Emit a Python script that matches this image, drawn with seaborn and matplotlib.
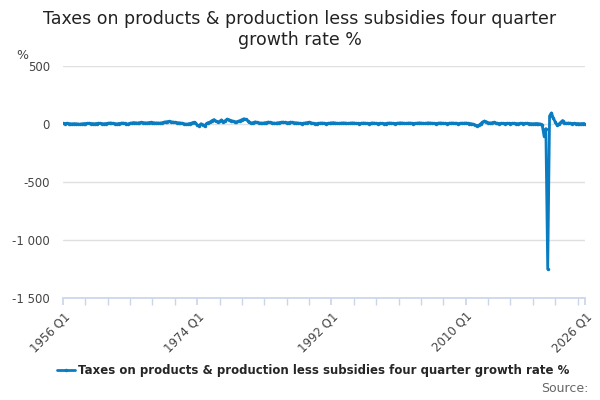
import matplotlib
matplotlib.use("Agg")
import matplotlib.pyplot as plt
import seaborn as sns
import pandas as pd

years = list(range(1956, 2027))
values = [
 5, 4, 6, 3,   2, 1, 3, 2,   0, -2, 1, 3,   4, 5, 6, 4,   3, 2, 4, 6,
 5, 3, 2, 4,   6, 8, 7, 5,   3, 1, 4, 6,   8, 5, -3, 2,  6, 9, 12, 10,
 8, 11, 13, 12, 10, 9, 12, 14, 12, 10, 8, 9, 7, 10, 15, 18,  20, 22, 19, 16,
 14, 12, 10, 8,  6, 2, -2, 0,  4, 8, 14, 12,  -8, -15, 2, -5,  -18, 5, 12, 18,
 30, 38, 25, 18,  22, 35, 20, 28,  42, 36, 30, 25,  20, 18, 22, 30,  38, 45, 40, 30,
 15, 8, 12, 18,  14, 10, 8, 6,  10, 12, 16, 14,  10, 8, 6, 9,  12, 14, 16, 13,
 10, 12, 15, 14,  11, 10, 8, 6,  4, 6, 9, 12,  15, 10, 6, 4,  3, 5, 7, 8,
 6, 4, 5, 7,  9, 11, 8, 6,  5, 7, 9, 8,  6, 5, 7, 9,  8, 6, 5, 4,
 6, 8, 7, 5,  4, 6, 8, 7,  5, 4, 6, 5,  3, 4, 6, 8,  7, 5, 4, 6,
 7, 9, 8, 6,  5, 7, 8, 6,  4, 5, 7, 9,  8, 6, 5, 7,  9, 8, 6, 5,
 4, 6, 8, 7,  6, 5, 4, 6,  7, 8, 6, 5,  4, 5, 7, 6,
 8, 6, 4, 2,  -2, -8, -15, -12,  2, 15, 25, 20,  12, 8, 10, 15,  8, 5, 4, 6,
 5, 4, 6, 5,  4, 5, 6, 4,  3, 5, 6, 4,  5, 6, 4, 3,  2, 3, 4, 2,
 0, -5, -100, -40,  -1250, 70, 95, 50,  20, -10, 0, 15,  30, 10, 5, 8,  6, 4, 5, 3,
 4, 2, 3, 4, 3,
]
values = values[:281]
df = pd.DataFrame({"x": range(len(values)), "y": values})

sns.set_theme(style="white")
plt.rcParams['font.family'] = ['DejaVu Sans']
fig, ax = plt.subplots(figsize=(6, 4), dpi=100)
fig.subplots_adjust(left=0.105, right=0.975, top=0.835, bottom=0.255)
color = "#0a7cc1"
sns.lineplot(data=df, x="x", y="y", ax=ax, color=color, linewidth=2, marker="o",
             markersize=2.5, markeredgewidth=0, label="Taxes on products & production less subsidies four quarter growth rate %")
ax.set_ylim(-1500, 500)
ax.set_yticks([-1500, -1000, -500, 0, 500])
ax.set_yticklabels(["-1 500", "-1 000", "-500", "0", "500"], color="#444444", fontsize=8.5)
ax.yaxis.grid(True, color="#e0e0e0", linewidth=1)
ax.set_xlim(0, 280)
ax.set_xticks([0, 72, 144, 216, 280])
ax.set_xticklabels(["1956 Q1", "1974 Q1", "1992 Q1", "2010 Q1", "2026 Q1"], rotation=45,
                   ha="right", rotation_mode="anchor", color="#444444", fontsize=8.5)
ax.set_xticks(range(0, 281, 12), minor=True)
ax.tick_params(axis="x", which="both", length=5, color="#ccd6eb", bottom=True)
for s in ["top", "right", "left"]:
    ax.spines[s].set_visible(False)
ax.spines["bottom"].set_color("#ccd6eb")
ax.set_xlabel(""); ax.set_ylabel("")
ax.text(-0.09, 1.03, "%", transform=ax.transAxes, fontsize=9, color="#444444")
fig.suptitle("Taxes on products & production less subsidies four quarter\ngrowth rate %",
             fontsize=12.5, color="#222222", y=0.975)
ax.legend(loc="upper center", bbox_to_anchor=(0.48, -0.24), frameon=False,
          prop={"weight": "bold", "size": 8.5}, handlelength=1.5, handletextpad=0.3)
fig.text(0.98, 0.02, "Source:", ha="right", fontsize=9, color="#666666")
fig.savefig("out.png")
